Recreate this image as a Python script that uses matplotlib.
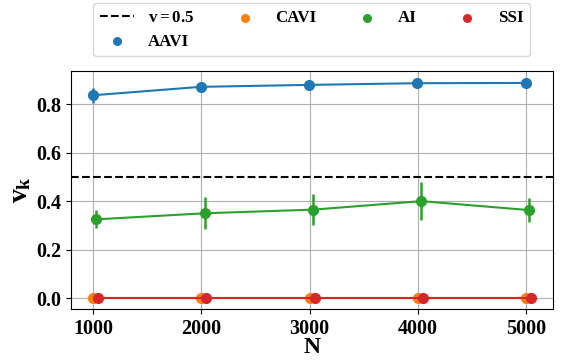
import matplotlib.pyplot as plt
import numpy as np

plt.rcParams['font.family'] = ['Liberation Serif', 'DejaVu Serif']
plt.rcParams['font.weight'] = 'bold'
plt.rcParams['mathtext.fontset'] = 'custom'
plt.rcParams['mathtext.rm'] = 'Liberation Serif:bold'
plt.rcParams['mathtext.it'] = 'Liberation Serif:bold'
plt.rcParams['mathtext.bf'] = 'Liberation Serif:bold'

N = [1000, 2000, 3000, 4000, 5000]
aavi = [0.837, 0.872, 0.880, 0.887, 0.888]
aavi_err = [0.031, 0.008, 0.006, 0.005, 0.005]
cavi = [0.0, 0.0, 0.0, 0.0, 0.0]
ai = [0.325, 0.350, 0.365, 0.400, 0.363]
ai_err = [0.037, 0.066, 0.064, 0.078, 0.050]
ssi = [0.0, 0.0, 0.0, 0.0, 0.0]

colors = {"AAVI": "#1f77b4", "CAVI": "#ff7f0e", "AI": "#2ca02c", "SSI": "#d62728"}
# little horizontal dodge so overlapping points can be seen
shift = {"AAVI": -5, "CAVI": 0, "AI": 30, "SSI": 45}

fig = plt.figure(figsize=(5.66, 3.6), dpi=100)
ax = fig.add_axes([0.125, 0.142, 0.852, 0.661])

x = np.array(N)
ref = ax.axhline(0.5, color="black", linestyle="--", linewidth=1.5)

kw = dict(marker="o", ms=7, lw=1.5, elinewidth=1.8)
ax.errorbar(x + shift["CAVI"], cavi, yerr=0, color=colors["CAVI"], **kw)
ax.errorbar(x + shift["AI"], ai, yerr=ai_err, color=colors["AI"], **kw)
ax.errorbar(x + shift["SSI"], ssi, yerr=0, color=colors["SSI"], **kw)
ax.errorbar(x + shift["AAVI"], aavi, yerr=aavi_err, color=colors["AAVI"], **kw)

dots = {}
for name in ["AAVI", "CAVI", "AI", "SSI"]:
    dots[name] = ax.scatter([], [], color=colors[name], s=30)

ax.grid(True, color="#b0b0b0", linewidth=0.8)
ax.set_xticks(N)
ax.set_yticks([0.0, 0.2, 0.4, 0.6, 0.8])
ax.tick_params(labelsize=14.5)
for lab in ax.get_xticklabels() + ax.get_yticklabels():
    lab.set_fontweight("bold")
ax.set_xlabel("N", fontsize=17, fontweight="bold", labelpad=-1)
ax.set_ylabel(r"$v_k$", fontsize=20, labelpad=2)

# matplotlib fills legend columns first, so AAVI goes second to land under v=0.5
handles = [ref, dots["AAVI"], dots["CAVI"], dots["AI"], dots["SSI"]]
labels = [r"$v=0.5$", "AAVI", "CAVI", "AI", "SSI"]
ax.legend(handles, labels, loc="lower center", bbox_to_anchor=(0.5, 1.025), ncol=4,
          prop={"weight": "bold", "size": 12.2}, labelspacing=0.45, borderpad=0.4)

fig.savefig("out.png", dpi=100)
